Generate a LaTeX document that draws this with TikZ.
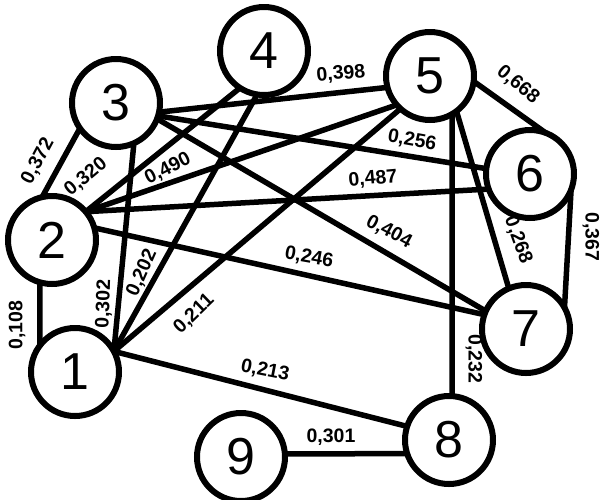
\documentclass[tikz,border=0pt]{standalone}
\usepackage{fontspec}
\setmainfont{Liberation Sans}
\usetikzlibrary{backgrounds}
\begin{document}
\begin{tikzpicture}[x=1pt,y=-1pt,
  vertex/.style={circle,draw=black,line width=6pt,fill=white,minimum size=88pt,
    inner sep=0pt,outer sep=0pt,font=\fontsize{52}{60}\selectfont},
  link/.style={line width=5.5pt,line cap=butt},
  weight/.style={font=\bfseries\fontsize{19.5}{22}\selectfont,inner sep=0pt}]
\useasboundingbox (0,0) rectangle (602,499);
\clip (0,0) rectangle (602,499);

% vertices
\node[vertex] (n1) at (75,372) {1};
\node[vertex] (n2) at (52,240) {2};
\node[vertex] (n3) at (116,103) {3};
\node[vertex] (n4) at (264,51) {4};
\node[vertex] (n5) at (430,76) {5};
\node[vertex] (n6) at (530,174) {6};
\node[vertex] (n7) at (526,329) {7};
\node[vertex] (n8) at (449,440) {8};
\node[vertex] (n9) at (241,457) {9};

% weighted edges, kept behind the vertices
\begin{pgfonlayer}{background}
\fill[white] (0,0) rectangle (602,499);
\draw[link] (n2.-106) -- (n1.143);
\draw[link] (n3.-66) -- (n1.28);
\draw[link] (n4.-99) -- (n1.28);
\draw[link] (n5.-132) -- (n1.28);
\draw[link] (n8.162) -- (n1.28);
\draw[link] (n2.103) -- (n3.-145);
\draw[link] (n2.40) -- (n4.-123);
\draw[link] (n2.40) -- (n5.-139);
\draw[link] (n2.40) -- (n6.-160);
\draw[link] (n2.16) -- (n7.161);
\draw[link] (n3.-12) -- (n5.-165);
\draw[link] (n3.-17) -- (n6.173);
\draw[link] (n3.-21) -- (n7.156);
\draw[link] (n5.-7) -- (n6.69);
\draw[link] (n5.-53) -- (n7.113);
\draw[link] (n5.-60) -- (n8.86);
\draw[link] (n6.-21) -- (n7.29);
\draw[link] (n9.4) -- (n8.-162);
\end{pgfonlayer}

% edge weights
\node[weight,rotate=90]  (w12) at (17,325)  {0,108};
\node[weight,rotate=88]  (w13) at (104,304) {0,302};
\node[weight,rotate=66]  (w14) at (142,273) {0,202};
\node[weight,rotate=44]  (w15) at (194,314) {0,211};
\node[weight,rotate=-11] (w18) at (265,371) {0,213};
\node[weight,rotate=62]  (w23) at (38,161)  {0,372};
\node[weight,rotate=40]  (w24) at (86,177)  {0,320};
\node[weight,rotate=27]  (w25) at (168,169) {0,490};
\node[weight,rotate=5]   (w26) at (373,179) {0,487};
\node[weight,rotate=-10] (w27) at (309,258) {0,246};
\node[weight,rotate=5]   (w35) at (341,74)  {0,398};
\node[weight,rotate=-10] (w36) at (412,141) {0,256};
\node[weight,rotate=-28] (w37) at (389,232) {0,404};
\node[weight,rotate=-40] (w56) at (518,85)  {0,668};
\node[weight,rotate=-70] (w57) at (518,240) {0,268};
\node[weight,rotate=-90] (w58) at (474,359) {0,232};
\node[weight,rotate=-90] (w67) at (591,237) {0,367};
\node[weight]            (w98) at (331,437) {0,301};
\end{tikzpicture}
\end{document}
